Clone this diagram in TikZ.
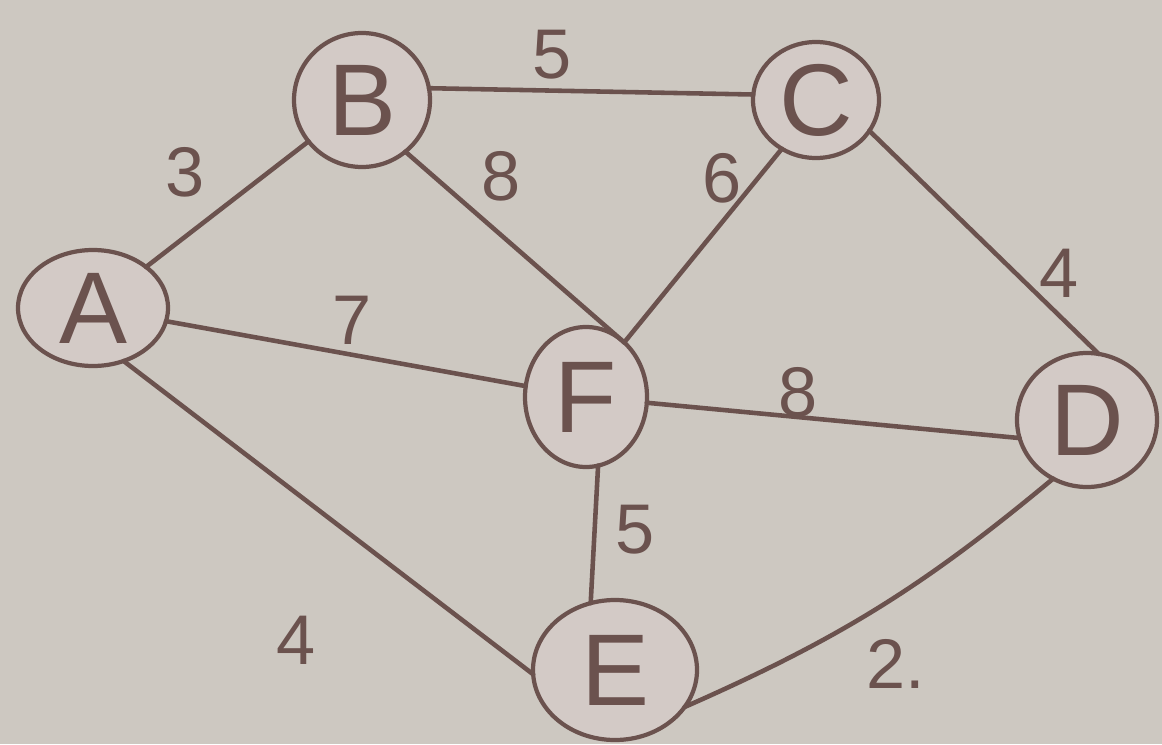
\documentclass[tikz,border=0pt]{standalone}
\usepackage{fontspec}
\setmainfont{Liberation Sans}
\usepackage{xcolor}
\usetikzlibrary{shapes.geometric}
\definecolor{gpPaper}{HTML}{CDC8C1}
\definecolor{gpInk}{HTML}{6B524E}
\definecolor{gpFill}{HTML}{D3CAC6}
\tikzset{
  % Vertex (hand-drawn circle)
  vbox/.style={ellipse,draw=gpInk,line width=2.4pt,fill=gpFill,
    inner sep=0pt,outer sep=0pt,
    font=\fontsize{58}{58}\selectfont,text=gpInk},
  % Edge
  edg/.style={draw=gpInk,line width=2.6pt,line cap=round},
  % Weight label
  wt/.style={font=\fontsize{40}{40}\selectfont,text=gpInk,inner sep=1pt},
}
\begin{document}
\begin{tikzpicture}
  \useasboundingbox (0,0) rectangle (23.24,14.88);
  \fill[gpPaper] (0,0) rectangle (23.24,14.88);

  \node[vbox,minimum width=3.0cm,minimum height=2.32cm] (A) at (1.86,8.72) {A};
  \node[vbox,minimum width=2.72cm,minimum height=2.68cm] (B) at (7.24,12.88) {B};
  \node[vbox,minimum width=2.52cm,minimum height=2.32cm] (C) at (16.32,12.88) {C};
  \node[vbox,minimum width=2.44cm,minimum height=2.8cm] (F) at (11.72,6.94) {F};
  \node[vbox,minimum width=2.8cm,minimum height=2.68cm] (D) at (21.74,6.48) {D};
  \node[vbox,minimum width=3.28cm,minimum height=2.8cm] (E) at (12.3,1.48) {E};

  \draw[edg] (A) -- node[wt,xshift=-0.84cm,yshift=0.64cm] {3} (B);
  \draw[edg] (B.10) -- node[wt,xshift=-0.78cm,yshift=0.74cm] {5} (C.175);
  \draw[edg] (B.-50) -- node[wt,pos=0.3,xshift=0.6cm,yshift=0.66cm] {8} (F.55);
  \draw[edg] (C.-125) -- node[wt,pos=0.2,xshift=-0.56cm,yshift=0.19cm] {6} (F.55);
  \draw[edg] (C.-30) -- node[wt,pos=0.6,xshift=1.05cm,yshift=-0.17cm] {4} (D.80);
  \draw[edg] (A) -- node[wt,xshift=0.12cm,yshift=0.67cm] {7} (F);
  \draw[edg] (F) -- node[wt,xshift=-0.7cm,yshift=0.57cm] {8} (D.195);
  \draw[edg] (F.-80) -- node[wt,xshift=0.82cm,yshift=0.09cm] {5} (E.110);
  \draw[edg] (A.-60) -- node[wt,xshift=-0.64cm,yshift=-2.45cm] {4} (E.183);
  \draw[edg] (E.-28) to[bend right=8]
    node[wt,xshift=0.36cm,yshift=-1.12cm] {2.} (D.-120);
\end{tikzpicture}
\end{document}
